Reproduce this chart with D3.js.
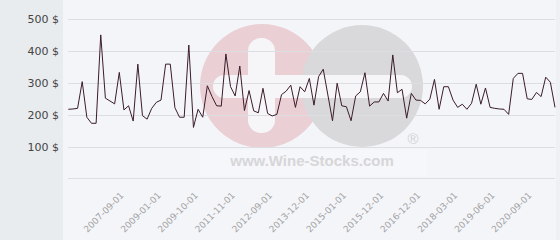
<!DOCTYPE html>
<html>
<head>
<meta charset="utf-8">
<script src="https://cdn.jsdelivr.net/npm/d3@7"></script>
<style>
body { margin: 0; background: #fff; }
svg { display: block; font-family: "DejaVu Sans", Verdana, sans-serif; }
</style>
</head>
<body>
<svg id="chart" width="560" height="240"></svg>
<script>
// price per sale, in $, read point by point
var prices = [217,218,220,304,192,173,173,451,252,243,234,333,215,228,180,359,197,186,220,239,246,359,359,222,192,192,419,
              160,217,192,291,257,228,227,391,288,259,353,213,276,212,206,283,204,196,201,263,274,293,223,288,272,314,230,
              320,343,262,181,299,228,225,181,259,272,332,227,240,240,267,243,388,269,280,189,267,246,245,234,249,311,217,
              288,288,246,223,233,217,236,296,233,284,223,220,218,217,201,314,330,330,250,248,270,257,318,302,223];

// only every 8th date is printed on the axis
var tickIndex = [12,20,28,36,44,52,60,68,76,84,92,100];
var tickLabels = ["2007-09-01","2009-01-01","2009-10-01","2011-11-01","2012-09-01","2013-12-01",
                  "2015-01-01","2015-12-01","2016-12-01","2018-03-01","2019-06-01","2020-09-01"];

var yTicks = [0,100,200,300,400,500];

var svg = d3.select("#chart");
var W = 560, H = 240;
var panel = 63;

var x = d3.scaleLinear().domain([0, prices.length-1]).range([68.3, 555]);
var y = d3.scaleLinear().domain([0, 500]).range([178.3, 19.3]);

//backgrounds
svg.append("rect").attr("width", panel).attr("height", H).attr("fill", "#e8ecef");
svg.append("rect").attr("x", panel).attr("width", W-panel).attr("height", H).attr("fill", "#f4f5f9");
svg.append("rect").attr("x", 556).attr("width", 4).attr("height", H).attr("fill", "#eef0f4");

//watermark
var wm = svg.append("g").attr("class", "watermark");
wm.append("rect").attr("x", 200).attr("y", 150).attr("width", 227).attr("height", 26)
    .attr("fill", "#ffffff").attr("opacity", 0.2);
wm.append("circle").attr("cx", 262).attr("cy", 86).attr("r", 62).attr("fill", "#eacfd5");
wm.append("circle").attr("cx", 362).attr("cy", 86).attr("r", 61).attr("fill", "#d9d9db");
wm.append("rect").attr("x", 248).attr("y", 38).attr("width", 27).attr("height", 95)
    .attr("rx", 13).attr("fill", "#f6f6f9");
wm.append("rect").attr("x", 213).attr("y", 75).attr("width", 199).attr("height", 23)
    .attr("rx", 11.5).attr("fill", "#f6f6f9");
wm.append("text").attr("x", 312).attr("y", 166).attr("text-anchor", "middle")
    .style("font-family", "'Liberation Sans', Arial, sans-serif")
    .style("font-weight", "bold").style("font-size", "15px")
    .attr("fill", "#d6d6d8").text("www.Wine-Stocks.com");
wm.append("text").attr("x", 413).attr("y", 144).attr("text-anchor", "middle")
    .style("font-family", "'Liberation Sans', Arial, sans-serif")
    .style("font-size", "15px").attr("fill", "#d2d2d4").text("\u00ae");

//grid
svg.append("g").selectAll("line")
    .data(yTicks)
    .enter().append("line")
    .attr("x1", 68).attr("x2", 555)
    .attr("y1", function(d){return Math.round(y(d))+0.5;})
    .attr("y2", function(d){return Math.round(y(d))+0.5;})
    .attr("stroke", "#dddee2").attr("stroke-width", 1);

//y axis labels
var yAxis = d3.axisLeft(y)
    .tickValues(yTicks.filter(function(d){return d > 0;}))
    .tickSize(0).tickPadding(0)
    .tickFormat(function(d){return d + " $";});
svg.append("g")
    .attr("transform", "translate(59,0)")
    .call(yAxis)
    .call(function(g){ g.select(".domain").remove(); })
    .selectAll("text")
    .style("font-family", "'DejaVu Sans', Verdana, sans-serif")
    .style("font-size", "11px")
    .attr("fill", "#444");

//x axis labels
var xAxis = d3.axisBottom(x)
    .tickValues(tickIndex)
    .tickSize(0)
    .tickFormat(function(d){return tickLabels[tickIndex.indexOf(d)];});
svg.append("g")
    .call(xAxis)
    .call(function(g){ g.select(".domain").remove(); })
    .selectAll("text")
    .attr("y", 0).attr("dy", 0)
    .attr("transform", "translate(0,196) rotate(-45)")
    .style("text-anchor", "end")
    .style("font-family", "'DejaVu Sans', Verdana, sans-serif")
    .style("font-size", "9px")
    .attr("fill", "#a3a3a3");

//price line
var line = d3.line()
    .x(function(d, i){return x(i);})
    .y(function(d){return y(d);});
svg.append("path")
    .datum(prices)
    .attr("d", line)
    .attr("fill", "none")
    .attr("stroke", "#3b1c2a")
    .attr("stroke-width", 1)
    .attr("stroke-linejoin", "miter");
</script>
</body>
</html>
